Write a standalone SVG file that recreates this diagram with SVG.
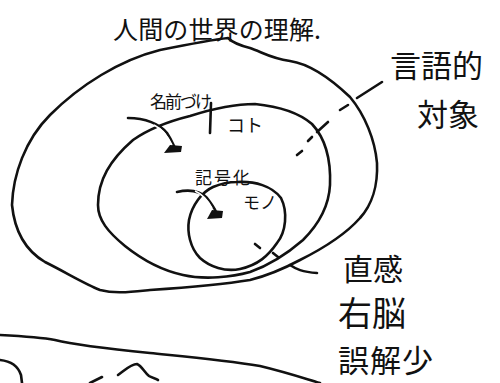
<svg xmlns="http://www.w3.org/2000/svg" width="500" height="383" viewBox="0 0 500 383">
<style>
.ln{fill:none;stroke:#111;stroke-width:2.6;stroke-linecap:round;stroke-linejoin:round}
.t{font-family:"Noto Sans CJK JP","Noto Sans",sans-serif;fill:#111}
</style>
<rect width="500" height="383" fill="#fff"/>
<g id="outer">
<path class="ln" d="M12,205 C13,175 25,140 50,115 C80,85 120,60 160,50 C190,44 210,40 228,38 C232,42 238,45 250,48 C262,52 270,58 290,61 C310,64 330,78 350,97 C365,115 375,140 377,163 C378,185 372,205 360,218 C345,235 320,250 300,260 C285,268 270,275 250,280 C220,285 180,288 150,290 C130,292 115,294 100,290 C85,284 67,273 45,262 C28,252 15,235 12,205 Z"/>
<text class="t" x="113" y="39" font-size="25" textLength="208">人間の世界の理解.</text>
</g>
<g id="middle">
<path class="ln" d="M98,205 C98,180 110,160 133,140 C150,128 170,121 190,116 C215,108 235,104 255,104 C275,106 298,112 312,124 C325,138 331,160 330,185 C329,205 320,223 303,240 C288,253 270,265 250,272 C232,277 205,280 183,275 C160,270 140,258 125,246 C108,232 98,220 98,205 Z"/>
<text class="t" x="150" y="108" font-size="17" textLength="62">名前づけ</text>
<path class="ln" d="M211,103 L210,133" stroke-width="2"/>
<text class="t" x="227" y="132" font-size="18">コト</text>
<path class="ln" d="M128,118 C145,118 160,124 167,133 C171,139 173,144 175,148" stroke-width="5.5"/>
<path d="M154,125 C162,129 167,135 172,145" fill="none" stroke="#fff" stroke-width="1.5"/>
<polygon points="164,153 170,145 182,146 181,152" fill="#111"/>
</g>
<g id="inner">
<path class="ln" d="M237,182 C255,181 272,186 281,198 C288,212 286,232 277,243 C268,256 258,265 240,269 C225,272 210,267 200,258 C190,248 187,232 189,220 C192,205 202,192 213,187 C220,184 228,182 237,182 Z"/>
<text class="t" x="195" y="184" font-size="17" textLength="55">記号化</text>
<text class="t" x="243" y="209" font-size="17">モノ</text>
<path class="ln" d="M177,192 C190,189 200,191 207,198 C211,203 214,207 216,212" stroke-width="5"/>
<path d="M195,191 C202,194 207,199 212,208" fill="none" stroke="#fff" stroke-width="1.4"/>
<polygon points="207,219 212,210 223,211 222,218" fill="#111"/>
</g>
<g id="label-language">
<text class="t" x="390" y="77" font-size="31">言語的</text>
<text class="t" x="417" y="126" font-size="31">対象</text>
</g>
<g id="label-intuition">
<text class="t" x="343" y="280" font-size="30">直感</text>
<text class="t" x="338" y="326" font-size="34">右脳</text>
<text class="t" x="338" y="372" font-size="31" textLength="95">誤解少</text>
</g>
<g id="connectors">
<path class="ln" d="M297,155 L302,151 M308,141 L312,137 M317,132 L328,122 M340,110 L348,105 M357,98 L382,82"/>
<path class="ln" d="M255,244 L260,248 M273,253 L278,257 M290,265 C296,269 302,272 317,273"/>
</g>
<g id="lower">
<path class="ln" d="M0,335 C20,336 40,337 55,340 C75,345 110,349 150,353 C190,357 225,360 260,366 C285,372 300,377 320,383"/>
<path class="ln" d="M0,360 C10,361 18,366 21,375 L22,383"/>
<path class="ln" d="M90,383 L102,377"/>
<path class="ln" d="M118,375 C125,370 131,364 137,364 C142,366 144,372 149,376 C152,378 156,378 158,380"/>
</g>
</svg>
